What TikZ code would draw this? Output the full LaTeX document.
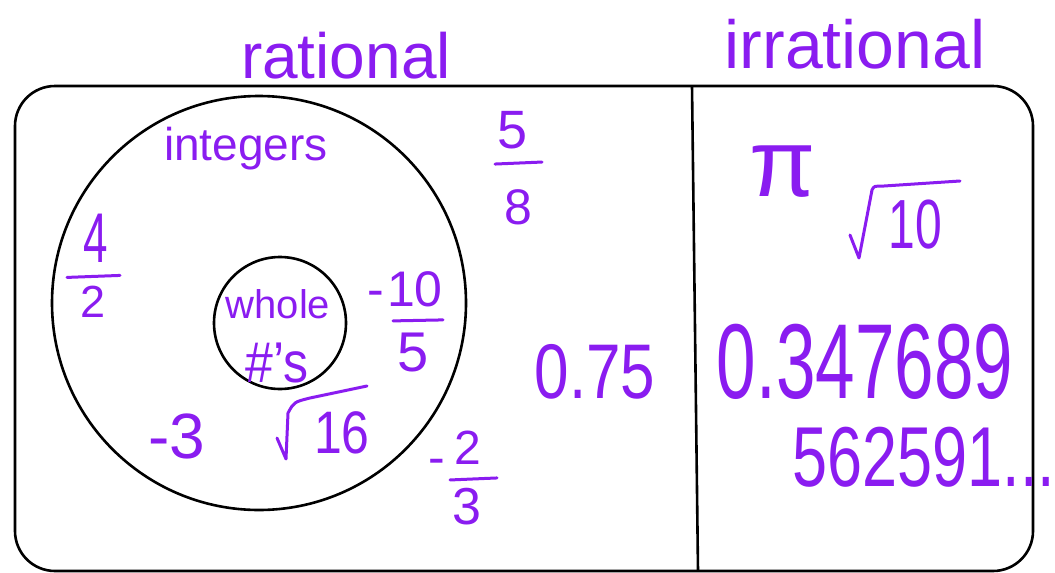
\documentclass[tikz,border=0pt]{standalone}
\usepackage{fontspec}
\setmainfont{Liberation Sans}
\usepackage{tikz}
\usetikzlibrary{positioning}
\definecolor{ink}{RGB}{138,28,240}
\newcommand{\fsz}[1]{\fontsize{#1}{#1}\selectfont}
\newcommand{\tallx}[2]{\scalebox{1}[#1]{#2}}

\begin{document}
\begin{tikzpicture}[x=1pt, y=-1pt,
  pen/.style={draw=black, line width=2.6pt},
  hand/.style={text=ink, inner sep=0pt},
  word/.style={hand, anchor=base},
  stroke/.style={draw=ink, line width=3pt, line cap=round, line join=round}]
  \useasboundingbox (0,0) rectangle (1055,573);
  % Outer frame and divider
  \draw[pen, rounded corners=40pt] (15,86) rectangle (1033,571);
  \coordinate (divtop) at (692,86);
  \coordinate (divbot) at (698,571);
  \draw[pen] (divtop) -- (divbot);
  % Nested sets
  \node[pen, circle, minimum size=414pt, inner sep=0pt] (integersSet) at (259,303) {};
  \node[pen, circle, minimum size=132pt, inner sep=0pt] (wholeSet) at (280,323) {};
  % Headings
  \node[word, font=\fsz{64}] (rational) at (346,78) {rational};
  \node[word, font=\fsz{68}] (irrational) at (855,68) {irrational};
  \node[word, font=\fsz{46}] (integers) at (246,160) {integers};
  \node[word, font=\fsz{40}] (whole) at (278,318) {whole};
  \node[word, font=\fsz{50}] (hashes) at (277,382) {\tallx{1.15}{\#'s}};
  % Fractions
  \node[hand, font=\fsz{44}] (n42) at (96,238) {\tallx{1.6}{4}};
  \node[hand, font=\fsz{45}] (d42) at (93,302) {2};
  \draw[stroke] ([xshift=-29pt, yshift=-15pt]n42.south) -- ([xshift=24pt, yshift=-13pt]n42.south);
  \node[hand, font=\fsz{54}] (n58) at (513,130) {5};
  \node[hand, font=\fsz{50}] (d58) at (518,207) {8};
  \draw[stroke] ([xshift=-18pt, yshift=-15pt]n58.south) -- ([xshift=29pt, yshift=-13pt]n58.south);
  \node[hand, font=\fsz{50}] (m105) at (376,299) {-};
  \node[hand, font=\fsz{50}] (n105) at (415,289) {10};
  \node[hand, font=\fsz{56}] (d105) at (413,353) {5};
  \draw[stroke] ([xshift=-22pt, yshift=-14pt]n105.south) -- ([xshift=28pt, yshift=-13pt]n105.south);
  \node[hand, font=\fsz{50}] (m23) at (437,467) {-};
  \node[hand, font=\fsz{48}] (n23) at (468,448) {2};
  \node[hand, font=\fsz{52}] (d23) at (467,507) {3};
  \draw[stroke] ([xshift=-18pt, yshift=-15pt]n23.south) -- ([xshift=29pt, yshift=-13pt]n23.south);
  % Other numbers
  \node[hand, font=\fsz{62}] (n075) at (595,372) {\tallx{1.25}{0.75}};
  \node[hand, font=\fsz{64}] (nm3) at (177,436) {-3};
  \node[hand, font=\fsz{96}] (npi) at (783,172) {π};
  \node[hand, font=\fsz{50}] (n16) at (342,433) {\tallx{1.2}{16}};
  \draw[stroke] (277,438) -- (286,459) -- (288,413) .. controls (294,402) .. (310,398) -- (367,386);
  \node[hand, font=\fsz{48}] (n10) at (915,225) {\tallx{1.45}{10}};
  \draw[stroke] (850,235) -- (859,258) -- (872,190) .. controls (874,186) .. (884,186) -- (960,181);
  \node[hand, font=\fsz{71}] (decA) at (865,362) {\tallx{1.5}{0.347689}};
  \node[hand, font=\fsz{63}] (decB) at (924,457) {\tallx{1.35}{562591...}};
\end{tikzpicture}
\end{document}
